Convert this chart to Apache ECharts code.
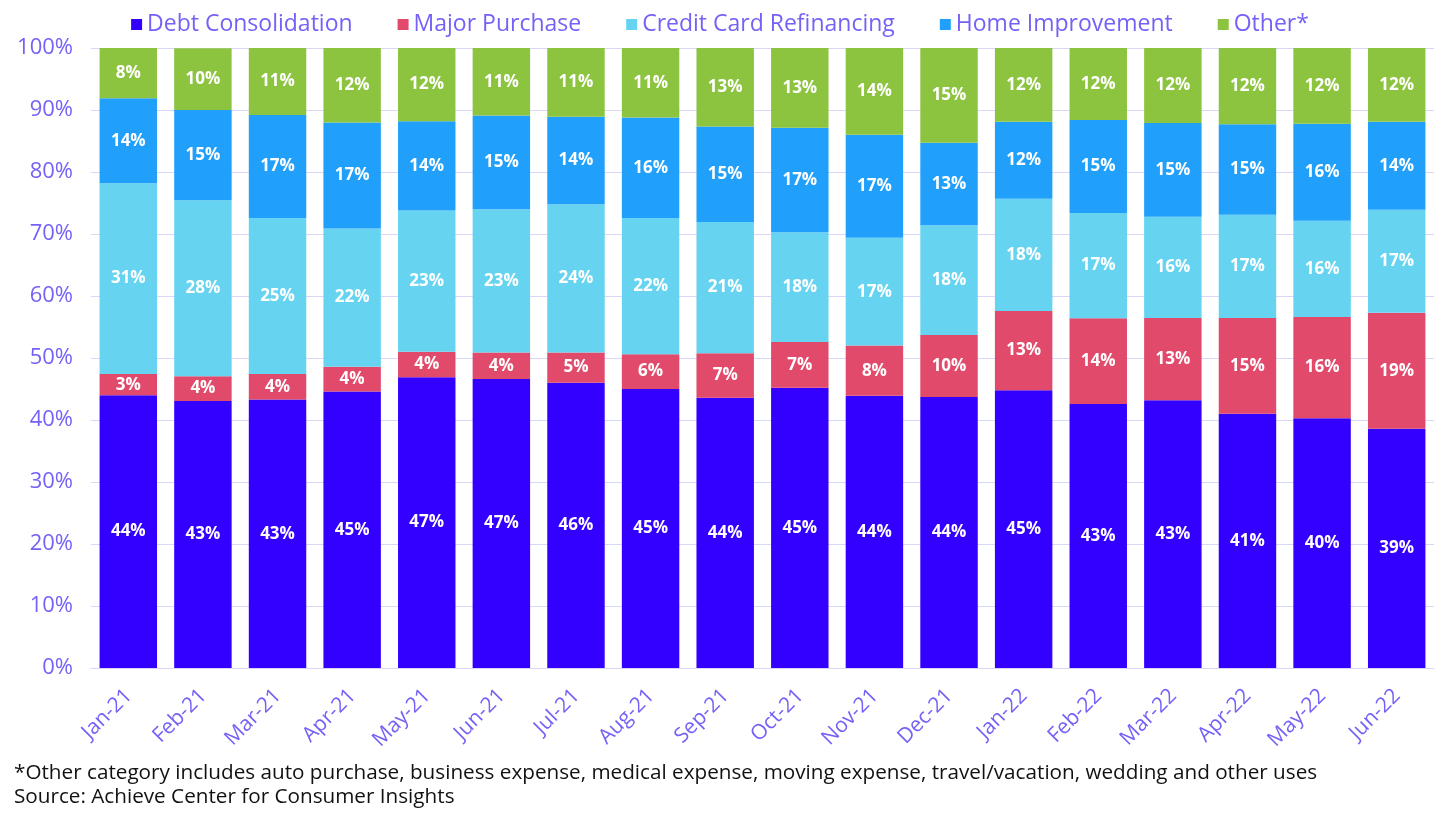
<!DOCTYPE html>
<html><head><meta charset="utf-8">
<script src="https://cdn.jsdelivr.net/npm/echarts@6/dist/echarts.min.js"></script>
<style>html,body{margin:0;padding:0;background:#fff}#c{width:1440px;height:825px}</style>
</head><body><div id="c"></div>
<script>
const categories = ['Jan-21','Feb-21','Mar-21','Apr-21','May-21','Jun-21','Jul-21','Aug-21','Sep-21','Oct-21','Nov-21','Dec-21','Jan-22','Feb-22','Mar-22','Apr-22','May-22','Jun-22'];
const debtConsolidation = [44.0,43.06,43.3,44.6,46.9,46.6,46.0,45.0,43.6,45.2,43.9,43.7,44.8,42.6,43.2,41.0,40.3,38.6];
const majorPurchase     = [3.4,4.0,4.1,4.0,4.1,4.3,4.9,5.6,7.15,7.4,8.1,10.0,12.8,13.8,13.25,15.45,16.3,18.7];
const creditCardRefi    = [30.8,28.4,25.2,22.3,22.8,23.1,23.9,22.0,21.2,17.7,17.4,17.7,18.1,17.0,16.35,16.65,15.55,16.6];
const homeImprovement   = [13.7,14.55,16.6,17.1,14.4,15.1,14.1,16.2,15.4,16.85,16.6,13.3,12.4,15.0,15.1,14.6,15.65,14.2];
const other             = [8.1,9.95,10.8,12.0,11.8,10.9,11.1,11.2,12.65,12.85,14.0,15.3,11.9,11.6,12.1,12.3,12.2,11.9];
const yTicks = ['0%','10%','20%','30%','40%','50%','60%','70%','80%','90%','100%'];
const footnotes = ['*Other category includes auto purchase, business expense, medical expense, moving expense, travel/vacation, wedding and other uses','Source: Achieve Center for Consumer Insights'];

const seriesDefs = [
  ['Debt Consolidation', debtConsolidation, '#3300FF'],
  ['Major Purchase', majorPurchase, '#E24A6B'],
  ['Credit Card Refinancing', creditCardRefi, '#66D4F1'],
  ['Home Improvement', homeImprovement, '#20A0FA'],
  ['Other*', other, '#8DC43F']
];
const FONT = 'Open Sans';
const PURPLE = '#7462F6';
const chart = echarts.init(document.getElementById('c'));
chart.setOption({
  animation: false,
  textStyle: {fontFamily: FONT},
  legend: {
    top: 8, left: 'center', itemWidth: 11, itemHeight: 11, itemGap: 45,
    icon: 'rect',
    textStyle: {color: PURPLE, fontSize: 23, fontFamily: FONT}
  },
  grid: {left: 91, right: 6, top: 48, bottom: 157},
  xAxis: {
    type: 'category', data: categories,
    axisLine: {lineStyle: {color: '#DAD6F7'}},
    axisTick: {show: false},
    axisLabel: {rotate: 45, color: PURPLE, fontSize: 21, fontFamily: FONT, margin: 10, verticalAlign: 'top', padding: [0, 10, 0, 0], interval: 0}
  },
  yAxis: {
    type: 'value', min: 0, max: 100, interval: 10,
    axisLabel: {color: PURPLE, fontSize: 22, fontFamily: FONT, margin: 18, formatter: v => yTicks[v/10]},
    splitLine: {lineStyle: {color: '#DAD6F7'}},
    axisLine: {show: false}, axisTick: {show: false}
  },
  series: seriesDefs.map(([name, data, color]) => ({
    name, type: 'bar', stack: 'total', data, barWidth: '77%',
    itemStyle: {color},
    label: {show: true, position: 'inside', color: '#fff', fontWeight: 'bold', fontSize: 17, fontFamily: FONT,
      formatter: p => Math.round(p.value) + '%'}
  })),
  graphic: footnotes.map((t, i) => ({
    type: 'text', left: 14, top: 763 + i*24,
    style: {text: t, fill: '#111', font: '20.7px "' + FONT + '"'}
  }))
});
</script></body></html>
